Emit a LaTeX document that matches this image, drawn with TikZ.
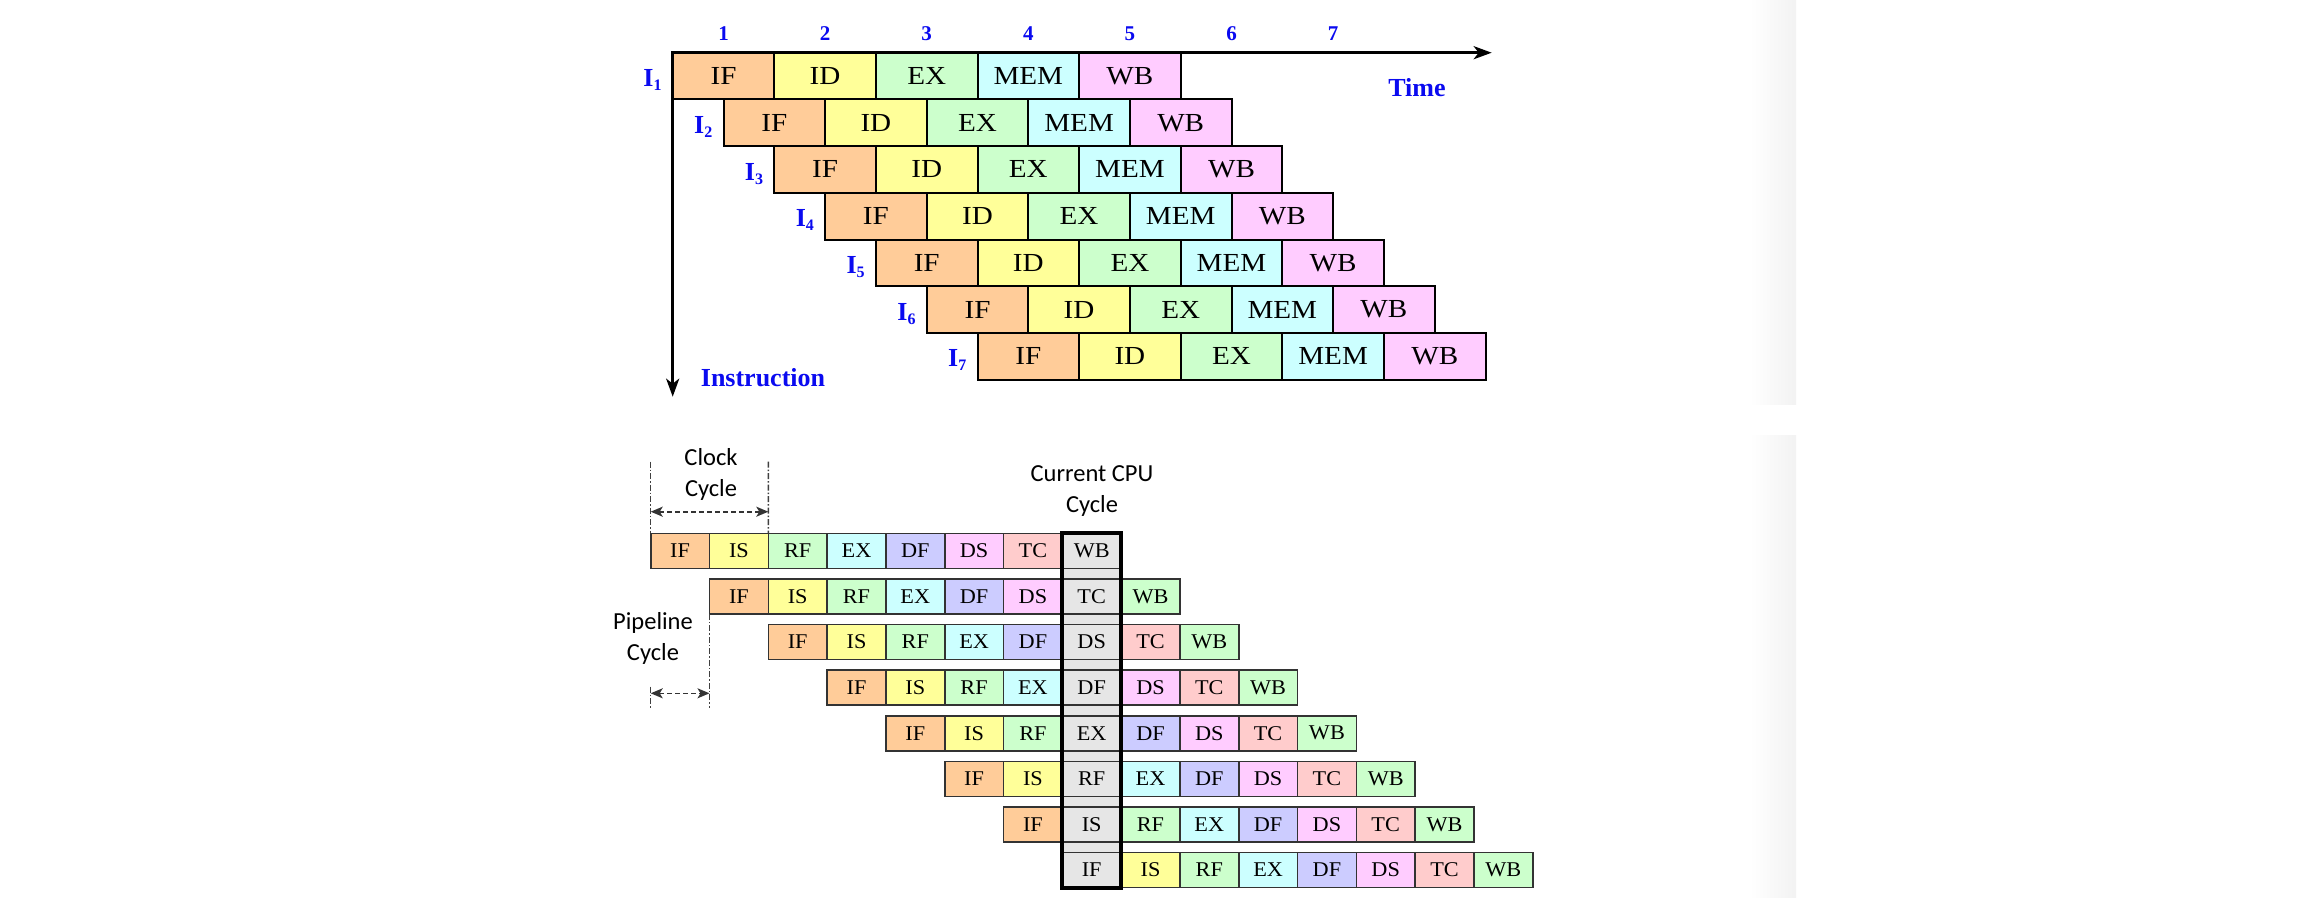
\documentclass[tikz,border=0pt]{standalone}
\usepackage{fontspec}
\setmainfont{Liberation Serif}
\newfontfamily\sanslabel{Carlito}
\newfontfamily\topcellfont[FakeStretch=1.12]{Liberation Serif}
\newfontfamily\botcellfont[FakeStretch=1.06]{Liberation Serif}
\usetikzlibrary{arrows.meta}
\definecolor{tIF}{HTML}{FFCC99}
\definecolor{tID}{HTML}{FFFF99}
\definecolor{tEX}{HTML}{CCFFCC}
\definecolor{tMEM}{HTML}{CCFFFF}
\definecolor{tWB}{HTML}{FFCCFF}
\definecolor{bIF}{HTML}{FFCC99}
\definecolor{bIS}{HTML}{FFFF99}
\definecolor{bRF}{HTML}{CCFFCC}
\definecolor{bEX}{HTML}{CCFFFF}
\definecolor{bDF}{HTML}{CCCCFF}
\definecolor{bDS}{HTML}{FFCCFF}
\definecolor{bTC}{HTML}{FFCCCC}
\definecolor{bWB}{HTML}{CCFFCC}
\definecolor{bGray}{HTML}{E6E6E6}
\definecolor{labblue}{HTML}{0A0AF0}
\begin{document}
\begin{tikzpicture}[x=1pt, y=-1pt,
  topcell/.style={draw=black, line width=2pt, minimum width=101.6pt, minimum height=46.7pt,
    inner sep=0pt, outer sep=0pt, anchor=north west, font=\topcellfont\fontsize{26}{30}\selectfont},
  botcell/.style={draw=black!80, line width=1.6pt, minimum width=58.8pt, minimum height=35pt,
    inner sep=0pt, outer sep=0pt, anchor=north west, font=\botcellfont\fontsize{21}{24}\selectfont},
  rowlab/.style={text=labblue, font=\bfseries\fontsize{26}{30}\selectfont, inner sep=0pt, anchor=base east},
  axislab/.style={text=labblue, font=\bfseries\fontsize{26}{30}\selectfont, inner sep=0pt, anchor=base},
  numlab/.style={text=labblue, font=\bfseries\fontsize{21}{24}\selectfont, inner sep=0pt, anchor=base},
  sanslab/.style={font=\sanslabel\fontsize{24.5}{28}\selectfont, inner sep=0pt, anchor=base},
  dashdot/.style={draw=black!75, line width=1.5pt, dash pattern=on 6pt off 2pt on 1.5pt off 2pt},
  dimarrow/.style={draw=black!80, line width=1.6pt, dash pattern=on 5pt off 3pt,
    {Stealth[length=12pt,width=10pt,inset=3pt]}-{Stealth[length=12pt,width=10pt,inset=3pt]}},
  axisline/.style={draw=black, line width=3pt,
    {Stealth[length=18pt,width=13pt,inset=5pt]}-{Stealth[length=18pt,width=13pt,inset=5pt]}}
]
\useasboundingbox (0,0) rectangle (2324,897);
\fill[white] (0,0) rectangle (2324,897);
% faint screenshot edges
\shade[left color=white, right color=black!5] (1750,0) rectangle (1796,404.3);
\shade[left color=white, right color=black!5] (1750,435) rectangle (1796,897);

% ---------------- top diagram ----------------
\foreach \k in {1,...,7} {
  \node[numlab] (n\k) at ({672.7+101.6*(\k-0.5)}, 40.7) {\k};
}
\foreach \r in {1,...,7} {
  \foreach \lab [count=\i from 0] in {IF,ID,EX,MEM,WB} {
    \node[topcell, fill=t\lab] (t\r-\i) at ({672.7+50.8*(\r-1)+101.6*\i}, {52.7+46.7*(\r-1)}) {\lab};
  }
  \node[rowlab] (i\r) at ({672.7+50.8*(\r-1)-11}, {52.7+46.7*(\r-1)+34}) {I\raisebox{-4pt}{\fontsize{16}{16}\selectfont\r}};
}
\coordinate (origin) at (672.7,52.7);
\coordinate (timeend) at (1491.7,52.7);
\coordinate (instrend) at (672.7,396.7);
\draw[axisline] (timeend) -- (origin) -- (instrend);
\node[axislab] (time) at (1417,96.7) {Time};
\node[axislab] (instr) at (763,386) {Instruction};

% ---------------- bottom diagram ----------------
\coordinate (cTL) at (1062.3,533.3);
\coordinate (cBR) at (1121.1,887.5);
\fill[bGray] (cTL) rectangle (cBR);
\foreach \r in {1,...,8} {
  \foreach \lab [count=\i from 0] in {IF,IS,RF,EX,DF,DS,TC,WB} {
    \pgfmathtruncatemacro\cc{\r+\i}
    \ifnum\cc=8 \def\fc{bGray}\else\def\fc{b\lab}\fi
    \node[botcell, fill=\fc] (b\r-\i) at ({650.7+58.8*(\r-1+\i)}, {533.3+45.6*(\r-1)}) {\lab};
  }
}
\draw[line width=4pt, black] (b1-7.north west) rectangle (b8-0.south east);

% Clock cycle
\coordinate (ckL) at (650.7,461.7);
\coordinate (ckR) at (768.3,461.7);
\draw[dashdot] (ckL) -- (b1-0.north west);
\draw[dashdot] (ckR) -- (b1-1.north east);
\coordinate (ckA) at (650.7,511.7);
\coordinate (ckB) at (768.3,511.7);
\draw[dimarrow] (ckA) -- (ckB);
\node[sanslab] (clk1) at (711,465) {Clock};
\node[sanslab] (clk2) at (711,496.5) {Cycle};

% Pipeline cycle
\coordinate (pcR) at (709.5,708.3);
\coordinate (pcLt) at (650.7,686.7);
\coordinate (pcLb) at (650.7,708.3);
\draw[dashdot] (b2-0.south west) -- (pcR);
\draw[dashdot] (pcLt) -- (pcLb);
\coordinate (pcA) at (650.7,693.3);
\coordinate (pcB) at (709.5,693.3);
\draw[dimarrow] (pcA) -- (pcB);
\node[sanslab] (pl1) at (653,629.3) {Pipeline};
\node[sanslab] (pl2) at (653,660) {Cycle};

% Current CPU cycle
\node[sanslab] (cur1) at (1092,481.7) {Current CPU};
\node[sanslab] (cur2) at (1092,512.7) {Cycle};
\end{tikzpicture}
\end{document}
